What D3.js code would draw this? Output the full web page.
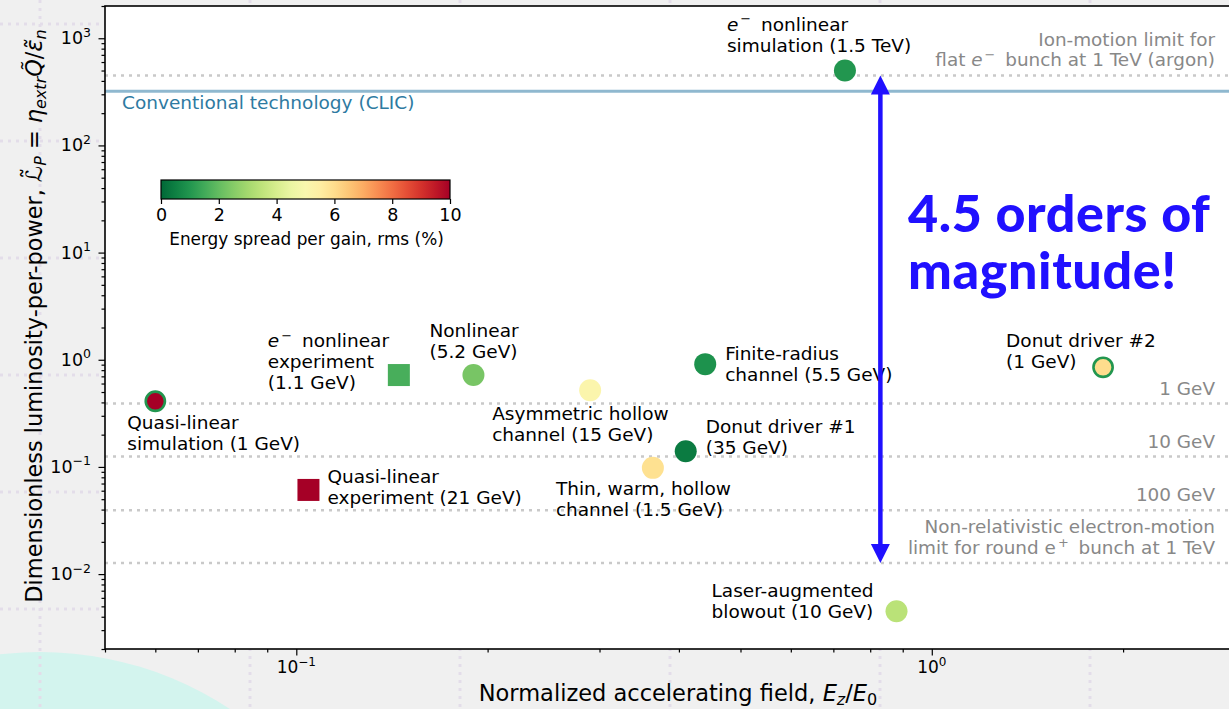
<!DOCTYPE html>
<html>
<head>
<meta charset="utf-8">
<script src="https://cdn.jsdelivr.net/npm/d3@7"></script>
<style>
  html, body { margin: 0; padding: 0; background: #f0f0f0; }
  svg { display: block; font-family: "DejaVu Sans", sans-serif; }
</style>
</head>
<body>
<svg id="chart" width="1229" height="709"></svg>
<script>
// ---- data -------------------------------------------------------------
const names = [
  "Quasi-linear simulation (1 GeV)",
  "e- nonlinear experiment (1.1 GeV)",
  "Nonlinear (5.2 GeV)",
  "Quasi-linear experiment (21 GeV)",
  "Asymmetric hollow channel (15 GeV)",
  "Finite-radius channel (5.5 GeV)",
  "Donut driver #1 (35 GeV)",
  "Thin, warm, hollow channel (1.5 GeV)",
  "e- nonlinear simulation (1.5 TeV)",
  "Laser-augmented blowout (10 GeV)",
  "Donut driver #2 (1 GeV)"
];
// normalized accelerating field Ez/E0
const fieldValues = [0.06, 0.145, 0.19, 0.1045, 0.29, 0.44, 0.41, 0.364, 0.73, 0.88, 1.86];
// dimensionless luminosity-per-power
const lumiValues = [0.41, 0.72, 0.72, 0.061, 0.52, 0.91, 0.14, 0.098, 500, 0.0045, 0.85];
// energy spread per gain, rms (%)
const spreadValues = [10, 1.6, 2.3, 10, 5.2, 0.9, 0.4, 5.9, 1.0, 3.4, 6.0];
// driver energy spread (%) shown as marker edge, null when absent
const edgeSpread = [1.0, null, null, null, null, null, null, null, null, null, 1.0];
// marker kinds: simulation / theory = circle, experiment = square
const markerKinds = ["circle", "square", "circle", "square", "circle", "circle", "circle", "circle", "circle", "circle", "circle"];

// horizontal limit lines
const limitValues = [450, 0.39, 0.125, 0.0395, 0.0127];
const limitLabels = [
  [["Ion-motion limit for"], [{t: "flat "}, {t: "e", i: true}, {t: "\u2212", sup: true}, {t: " bunch at 1 TeV (argon)"}]],
  [["1 GeV"]],
  [["10 GeV"]],
  [["100 GeV"]],
  [["Non-relativistic electron-motion"], [{t: "limit for round e"}, {t: "+", sup: true}, {t: " bunch at 1 TeV"}]]
];
const clicValue = 320;
const clicLabel = "Conventional technology (CLIC)";

// the double arrow spans from the ion-motion limit to the electron-motion limit
const arrowField = 0.83;
const arrowFrom = 450, arrowTo = 0.0127;
const arrowText = ["4.5 orders of", "magnitude!"];

const xMajorTicks = [0.1, 1];
const xMajorExp = ["\u22121", "0"];
const yMajorTicks = [0.01, 0.1, 1, 10, 100, 1000];
const yMajorExp = ["\u22122", "\u22121", "0", "1", "2", "3"];
const cbarTicks = [0, 2, 4, 6, 8, 10];

// point label lines (rich text pieces)
const E = [{t: "e", i: true}, {t: "\u2212", sup: true}, {t: " nonlinear"}];
const pointLabels = [
  [["Quasi-linear"], ["simulation (1 GeV)"]],
  [E, ["experiment"], ["(1.1 GeV)"]],
  [["Nonlinear"], ["(5.2 GeV)"]],
  [["Quasi-linear"], ["experiment (21 GeV)"]],
  [["Asymmetric hollow"], ["channel (15 GeV)"]],
  [["Finite-radius"], ["channel (5.5 GeV)"]],
  [["Donut driver #1"], ["(35 GeV)"]],
  [["Thin, warm, hollow"], ["channel (1.5 GeV)"]],
  [E, ["simulation (1.5 TeV)"]],
  [["Laser-augmented"], ["blowout (10 GeV)"]],
  [["Donut driver #2"], ["(1 GeV)"]]
];
// label placement relative to the marker: [dx to left edge, dy to first baseline]
const labelOffsets = [[-28, 28], [-131, -28], [-44, -38], [19, -7], [-98, 30], [20, -4],
                      [20, -18], [-97, 27], [-118, -40], [-185, -14], [-97, -20]];

// ---- layout -----------------------------------------------------------
const W = 1229, H = 709;
const plot = {left: 105, top: 6, right: 1235, bottom: 649};
const svg = d3.select("#chart");
const defs = svg.append("defs");

const x = d3.scaleLog().domain([0.05, 3]).range([plot.left, plot.right]);
const y = d3.scaleLog().domain([0.002, 2000]).range([plot.bottom, plot.top]);
const spreadColor = v => d3.interpolateRdYlGn(1 - v / 10);

// ---- slide backdrop ---------------------------------------------------
const bg = svg.append("g");
bg.append("rect").attr("width", W).attr("height", H).attr("fill", "#f0f0f0");
bg.append("circle").attr("cx", 40).attr("cy", 997).attr("r", 345).attr("fill", "#d3f4ee");
const gridStyle = s => s.attr("stroke", "#e3dde9").attr("stroke-width", 3).attr("stroke-dasharray", "3,5");
d3.range(24, H, 117).forEach(gy => bg.append("line").attr("x1", 0).attr("x2", W).attr("y1", gy).attr("y2", gy).call(gridStyle));
d3.range(40, W, 210).forEach(gx => bg.append("line").attr("y1", 0).attr("y2", H).attr("x1", gx).attr("x2", gx).call(gridStyle));

// ---- axes frame -------------------------------------------------------
svg.append("rect")
  .attr("x", plot.left).attr("y", plot.top)
  .attr("width", plot.right - plot.left).attr("height", plot.bottom - plot.top)
  .attr("fill", "#ffffff");

defs.append("clipPath").attr("id", "plotclip")
  .append("rect").attr("x", plot.left).attr("y", plot.top)
  .attr("width", plot.right - plot.left).attr("height", plot.bottom - plot.top);

const inner = svg.append("g").attr("clip-path", "url(#plotclip)");

// multi-line rich text: each line is a list of strings or {t, i, sup}
function richText(g, lines, x0, y0, size, lineH, anchor, color) {
  lines.forEach((line, k) => {
    const t = g.append("text")
      .attr("x", x0).attr("y", y0 + k * lineH)
      .attr("font-size", size).attr("fill", color)
      .attr("text-anchor", anchor);
    let raised = false;
    line.forEach(p => {
      const piece = typeof p === "string" ? {t: p} : p;
      const ts = t.append("tspan").text(piece.t);
      if (piece.i) ts.attr("font-style", "italic");
      if (piece.sup) {
        ts.attr("font-size", size * 0.7).attr("dy", -size * 0.4).attr("dx", 2);
        raised = true;
      } else if (raised) {
        ts.attr("dy", size * 0.4).attr("dx", 4);
        raised = false;
      }
    });
  });
}

// limit lines
limitValues.forEach((v, k) => {
  inner.append("line")
    .attr("x1", plot.left).attr("x2", plot.right)
    .attr("y1", y(v)).attr("y2", y(v))
    .attr("stroke", "#c9c9c9").attr("stroke-width", 2.5).attr("stroke-dasharray", "3,5");
  const lines = limitLabels[k];
  const n = lines.length;
  richText(svg.append("g"), lines, 1215, y(v) - 9 - (n - 1) * 20.5, 18.4, 20.5, "end", "#888888");
});

// CLIC reference line
inner.append("line")
  .attr("x1", plot.left).attr("x2", plot.right)
  .attr("y1", y(clicValue)).attr("y2", y(clicValue))
  .attr("stroke", "#8fb8cf").attr("stroke-width", 3);
svg.append("text").attr("x", 122).attr("y", y(clicValue) + 18)
  .attr("font-size", 18.5).attr("fill", "#2e7aa1").text(clicLabel);

// ticks
function minorTicks(domain) {
  const out = [];
  for (let e = -4; e <= 4; e++) for (let m = 2; m <= 9; m++) {
    const v = m * Math.pow(10, e);
    if (v >= domain[0] && v <= domain[1]) out.push(v);
  }
  return out;
}
const axisG = svg.append("g");
axisG.append("g").attr("transform", `translate(${plot.left},0)`)
  .call(d3.axisLeft(y).tickValues(minorTicks(y.domain())).tickSize(3.5).tickFormat(""));
axisG.append("g").attr("transform", `translate(${plot.left},0)`)
  .call(d3.axisLeft(y).tickValues(yMajorTicks).tickSize(6.5).tickFormat(""));
axisG.append("g").attr("transform", `translate(0,${plot.bottom})`)
  .call(d3.axisBottom(x).tickValues(minorTicks(x.domain())).tickSize(3.5).tickFormat(""));
axisG.append("g").attr("transform", `translate(0,${plot.bottom})`)
  .call(d3.axisBottom(x).tickValues(xMajorTicks).tickSize(6.5).tickFormat(""));
axisG.selectAll(".domain").remove();
axisG.selectAll("line").attr("stroke", "#000").attr("stroke-width", 1.2);

yMajorTicks.forEach((v, k) => {
  const t = svg.append("text").attr("x", 91).attr("y", y(v) + 6)
    .attr("font-size", 17.5).attr("text-anchor", "end").attr("fill", "#000");
  t.append("tspan").text("10");
  t.append("tspan").text(yMajorExp[k]).attr("font-size", 12.5).attr("dy", -7.5);
});
xMajorTicks.forEach((v, k) => {
  const t = svg.append("text").attr("x", x(v)).attr("y", 673)
    .attr("font-size", 17).attr("text-anchor", "middle").attr("fill", "#000");
  t.append("tspan").text("10");
  t.append("tspan").text(xMajorExp[k]).attr("font-size", 12).attr("dy", -7.5);
});

// frame spines
svg.append("rect")
  .attr("x", plot.left).attr("y", plot.top)
  .attr("width", plot.right - plot.left).attr("height", plot.bottom - plot.top)
  .attr("fill", "none").attr("stroke", "#000").attr("stroke-width", 1.6);

// ---- markers ----------------------------------------------------------
const pts = names.map((n, i) => ({
  name: n, fx: fieldValues[i], ly: lumiValues[i], s: spreadValues[i],
  edge: edgeSpread[i], kind: markerKinds[i], label: pointLabels[i], off: labelOffsets[i]
}));
const mk = inner.append("g");
pts.forEach(p => {
  const cx = x(p.fx), cy = y(p.ly);
  if (p.kind === "square") {
    mk.append("rect").attr("x", cx - 11).attr("y", cy - 11).attr("width", 22).attr("height", 22)
      .attr("fill", spreadColor(p.s));
  } else if (p.edge !== null) {
    mk.append("circle").attr("cx", cx).attr("cy", cy).attr("r", 9.6)
      .attr("fill", spreadColor(p.s)).attr("stroke", spreadColor(p.edge)).attr("stroke-width", 2.6);
  } else {
    mk.append("circle").attr("cx", cx).attr("cy", cy).attr("r", 11).attr("fill", spreadColor(p.s));
  }
});
const lab = svg.append("g");
pts.forEach(p => {
  richText(lab, p.label, x(p.fx) + p.off[0], y(p.ly) + p.off[1], 18.5, 21, "start", "#000");
});

// ---- double arrow -----------------------------------------------------
const blue = "#2010ff";
const ax = x(arrowField), a0 = y(arrowFrom), a1 = y(arrowTo);
const headL = 19, headW = 9.5;
svg.append("line").attr("x1", ax).attr("x2", ax).attr("y1", a0 + headL - 2).attr("y2", a1 - headL + 2)
  .attr("stroke", blue).attr("stroke-width", 4.5);
svg.append("path").attr("fill", blue)
  .attr("d", `M${ax},${a0} L${ax - headW},${a0 + headL} L${ax + headW},${a0 + headL} Z`);
svg.append("path").attr("fill", blue)
  .attr("d", `M${ax},${a1} L${ax - headW},${a1 - headL} L${ax + headW},${a1 - headL} Z`);
arrowText.forEach((s, k) => {
  svg.append("text").attr("x", 908).attr("y", 232 + k * 57)
    .style("font-family", "Lato, sans-serif").style("font-weight", 900)
    .style("letter-spacing", "0.6px")
    .attr("font-size", 52).attr("fill", blue).text(s);
});

// ---- colorbar ---------------------------------------------------------
const cb = {x0: 161, x1: 450, y: 180, h: 19};
const cbx = d3.scaleLinear().domain([0, 10]).range([cb.x0, cb.x1]);
const grad = defs.append("linearGradient").attr("id", "cbgrad");
d3.range(0, 10.01, 0.5).forEach(v => {
  grad.append("stop").attr("offset", `${v * 10}%`).attr("stop-color", spreadColor(v));
});
svg.append("rect").attr("x", cb.x0).attr("y", cb.y).attr("width", cb.x1 - cb.x0).attr("height", cb.h)
  .attr("fill", "url(#cbgrad)").attr("stroke", "#000").attr("stroke-width", 1.2);
const cbAxis = svg.append("g").attr("transform", `translate(0,${cb.y + cb.h})`)
  .call(d3.axisBottom(cbx).tickValues(cbarTicks).tickSize(5).tickPadding(5));
cbAxis.select(".domain").remove();
cbAxis.selectAll("line").attr("stroke", "#000").attr("stroke-width", 1.2);
cbAxis.selectAll("text").attr("font-size", 17.5).attr("font-family", "DejaVu Sans").attr("fill", "#000");
svg.append("text").attr("x", (cb.x0 + cb.x1) / 2 + 1).attr("y", 245)
  .attr("text-anchor", "middle").attr("font-size", 16.9).attr("fill", "#000")
  .text("Energy spread per gain, rms (%)");

// ---- axis titles ------------------------------------------------------
const xt = svg.append("text").attr("x", 678).attr("y", 701)
  .attr("text-anchor", "middle").attr("font-size", 22.5).attr("fill", "#000");
xt.append("tspan").text("Normalized accelerating field, ");
xt.append("tspan").text("E").attr("font-style", "italic");
xt.append("tspan").text("z").attr("font-style", "italic").attr("font-size", 16).attr("dy", 4);
xt.append("tspan").text("/").attr("dy", -4);
xt.append("tspan").text("E").attr("font-style", "italic");
xt.append("tspan").text("0").attr("font-size", 16).attr("dy", 4);

const yt = svg.append("text").attr("transform", "translate(42,316) rotate(-90)")
  .attr("text-anchor", "middle").attr("font-size", 22.4).attr("fill", "#000");
yt.append("tspan").text("Dimensionless luminosity-per-power, ");
yt.append("tspan").text("\u2112\u0303");
yt.append("tspan").text("P").attr("font-style", "italic").attr("font-size", 16).attr("dy", 4);
yt.append("tspan").text(" = ").attr("dy", -4);
yt.append("tspan").text("\u03b7").attr("font-style", "italic");
yt.append("tspan").text("extr").attr("font-style", "italic").attr("font-size", 16).attr("dy", 4);
yt.append("tspan").text("Q\u0303").attr("font-style", "italic").attr("dy", -4);
yt.append("tspan").text("/");
yt.append("tspan").text("\u03b5\u0303").attr("font-style", "italic");
yt.append("tspan").text("n").attr("font-style", "italic").attr("font-size", 16).attr("dy", 4);
</script>
</body>
</html>
